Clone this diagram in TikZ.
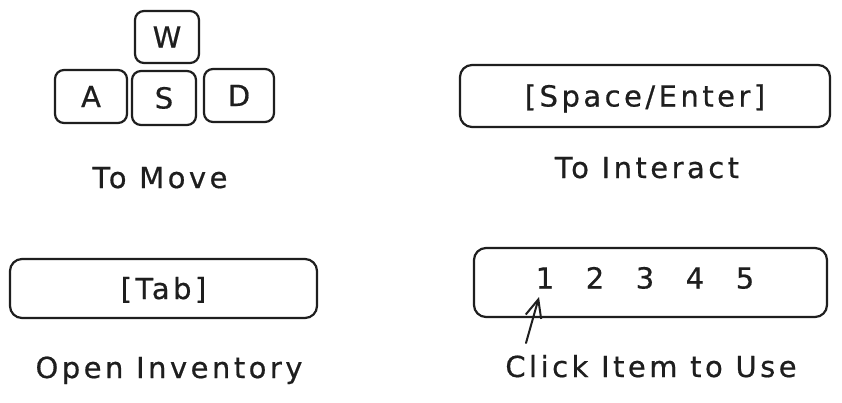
\documentclass[tikz,border=0pt]{standalone}
\usepackage{fontspec}
\setmainfont{DejaVu Sans}[LetterSpace=12, FakeBold=0.6]
\usetikzlibrary{arrows.meta}
\definecolor{ink}{HTML}{1E1E1E}
\begin{document}
\begin{tikzpicture}[x=1pt,y=-1pt,
  every node/.style={text=ink, inner sep=0pt, font=\fontsize{29}{33}\selectfont},
  keybox/.style={draw=ink, line width=2.2pt, rounded corners=9pt, text height=21pt, text depth=0pt},
  barbox/.style={draw=ink, line width=2.2pt, rounded corners=12pt, text height=21pt, text depth=0pt},
  lbl/.style={anchor=base},
  num/.style={text height=21pt, text depth=0pt}]
\useasboundingbox[fill=white] (0,0) rectangle (842,402);
% WASD keys
\node[keybox, minimum width=64pt, minimum height=52pt] (w) at (167,37) {W};
\node[keybox, minimum width=72pt, minimum height=53pt] (a) at (91,96.5) {A};
\node[keybox, minimum width=64pt, minimum height=54pt] (s) at (164,98) {S};
\node[keybox, minimum width=70pt, minimum height=53pt] (d) at (239,95.5) {D};
\node[lbl] (move) at (160,188) {To Move};
% Space / Enter
\node[barbox, minimum width=370pt, minimum height=62pt] (space) at (645,96) {[Space/Enter]};
\node[lbl] (interact) at (647,178) {To Interact};
% Tab
\node[barbox, minimum width=307pt, minimum height=59pt] (tab) at (163.5,288.5) {[Tab]};
\node[lbl] (inv) at (169,378) {Open Inventory};
% Hotbar
\node[barbox, minimum width=353pt, minimum height=69pt] (bar) at (650.5,282.5) {};
\node[num] (n1) at (545,278) {1};
\node[num] (n2) at (595,278) {2};
\node[num] (n3) at (645,278) {3};
\node[num] (n4) at (695,278) {4};
\node[num] (n5) at (745,278) {5};
\node[lbl] (click) at (651,377) {Click Item to Use};
\coordinate (atail) at (526,343);
\coordinate (ahead) at (539,297);
\draw[draw=ink, line width=2pt, line cap=round, -{Straight Barb[length=18pt,width=16pt,line width=2pt]}] (atail) -- (ahead);
\end{tikzpicture}
\end{document}
